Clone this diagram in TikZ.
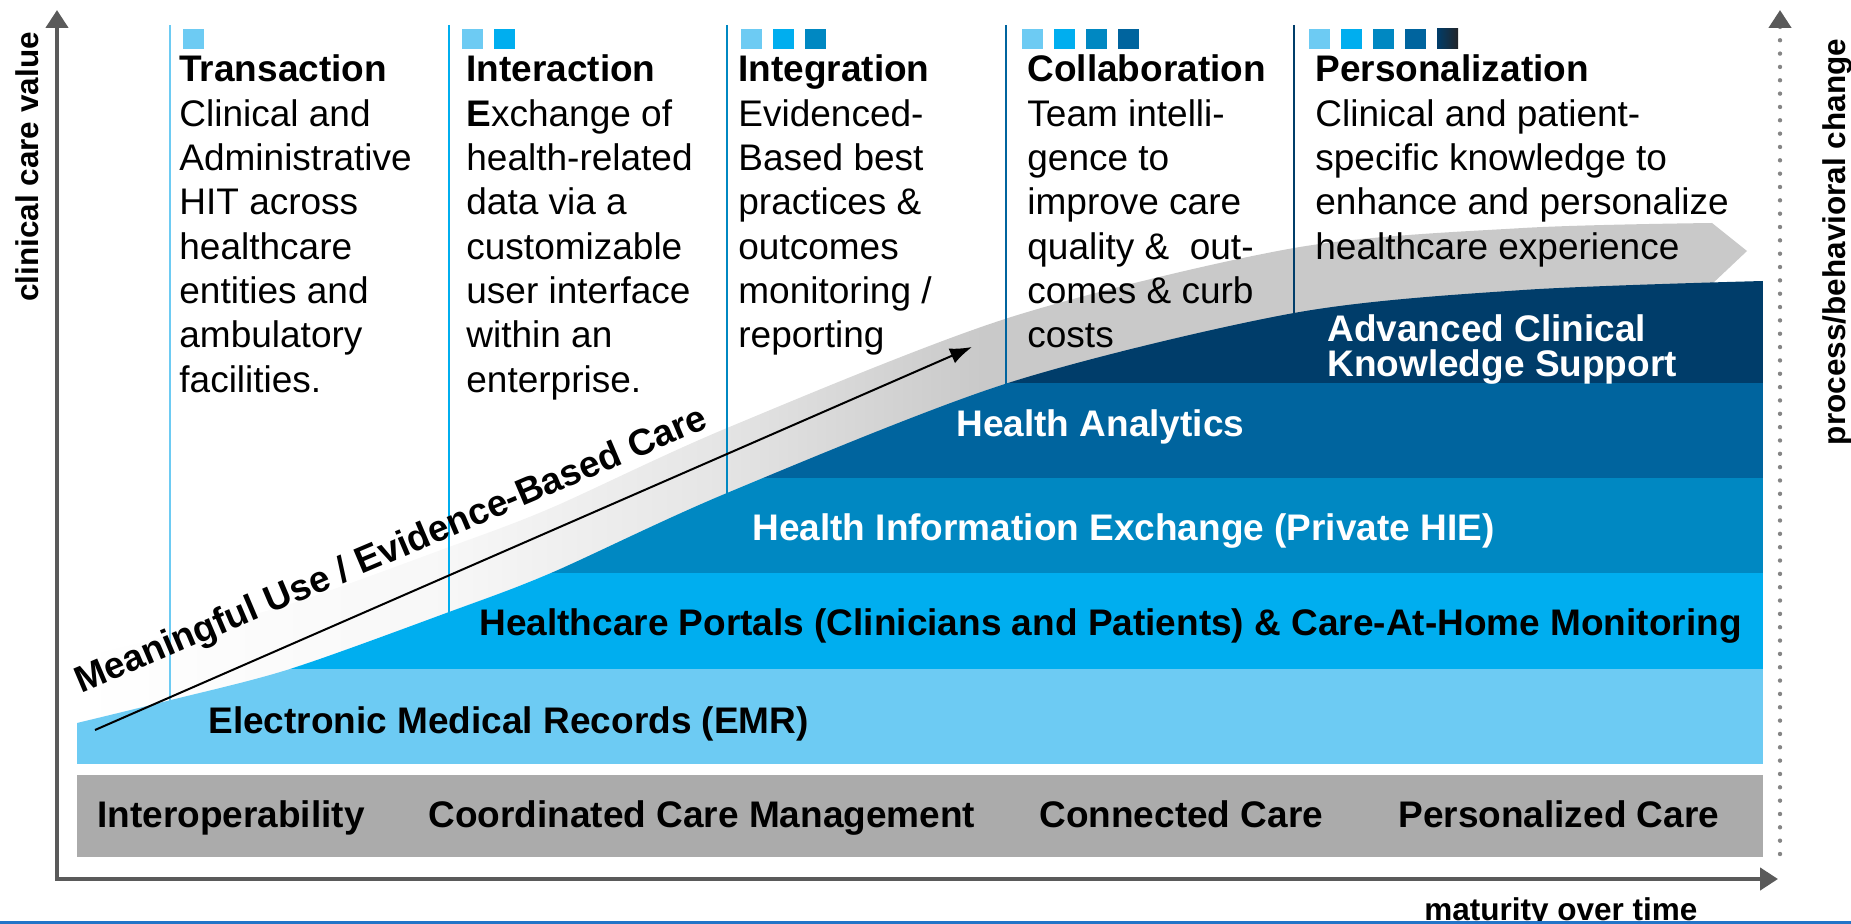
\documentclass[tikz,border=0pt]{standalone}
\usepackage{fontspec}
\setmainfont{Liberation Sans}
\usetikzlibrary{arrows.meta}
\definecolor{cA}{HTML}{6DCBF3}
\definecolor{cB}{HTML}{00AEEF}
\definecolor{cC}{HTML}{0088C2}
\definecolor{cD}{HTML}{00649E}
\definecolor{cE}{HTML}{003D6A}
\definecolor{sqdark}{HTML}{222428}
\definecolor{axisgray}{HTML}{5A5A5A}
\definecolor{dotgray}{HTML}{858585}
\definecolor{bargray}{HTML}{ABABAB}
\definecolor{botblue}{HTML}{2274C8}
\definecolor{botblue2}{HTML}{46A4E8}
\pgfdeclarehorizontalshading{bandshade}{100bp}{color(0bp)=(white); color(25bp)=(white); color(36bp)=(black!3); color(44bp)=(black!10); color(52bp)=(black!21); color(75bp)=(black!21); color(100bp)=(black!21)}
\begin{document}
\begin{tikzpicture}[x=0.5pt,y=-0.5pt,
  body/.style={font=\fontsize{18.5}{22}\selectfont, anchor=base west, inner sep=0pt},
  head/.style={font=\fontsize{18.5}{22}\selectfont\bfseries, anchor=base west, inner sep=0pt},
  lbl/.style={font=\fontsize{18.5}{22}\selectfont\bfseries, anchor=base west, inner sep=0pt},
  axlbl/.style={font=\fontsize{15.75}{18}\selectfont\bfseries, inner sep=0pt},
  colline/.style={line width=1.25pt},
  tipgray/.style={axisgray, line width=2.2pt}]
\useasboundingbox (0,0) rectangle (1851,924);

% gray gradient arrow band
\path[shading=bandshade] plot[smooth] coordinates {(77,658) (171,635) (290,604) (449,547) (551,508) (727,428) (1008,318) (1294,248) (1523,228) (1712,223)} -- (1747,251) -- (1712,284) -- (1712,700) -- (77,740) -- cycle;

% column separator lines
\draw[colline, cA] (170,25) -- (170,710);
\draw[colline, cB] (449,25) -- (449,620);
\draw[colline, cC] (727,25) -- (727,500);
\draw[colline, cD] (1006,25) -- (1006,392);
\draw[colline, cE] (1294,25) -- (1294,320);

% stacked colored layers
\begin{scope}
\clip (77,764) -- plot[smooth] coordinates {(77,723) (171,700) (290,669) (449,612) (551,573) (727,493) (1008,383) (1294,313) (1523,290) (1763,281)} -- (1763,764) -- cycle;
\fill[cA] (77,669) rectangle (1763,764);
\fill[cB] (77,573) rectangle (1763,669);
\fill[cC] (77,478) rectangle (1763,573);
\fill[cD] (77,383) rectangle (1763,478);
\fill[cE] (77,250) rectangle (1763,383);
\end{scope}

% bottom gray bar
\fill[bargray] (77,775) rectangle (1763,857);

% small squares
\fill[cA] (183,29) rectangle +(21,20);
\fill[cA] (462,29) rectangle +(21,20);
\fill[cB] (494,29) rectangle +(21,20);
\fill[cA] (741,29) rectangle +(21,20);
\fill[cB] (773,29) rectangle +(21,20);
\fill[cC] (805,29) rectangle +(21,20);
\fill[cA] (1022,29) rectangle +(21,20);
\fill[cB] (1054,29) rectangle +(21,20);
\fill[cC] (1086,29) rectangle +(21,20);
\fill[cD] (1118,29) rectangle +(21,20);
\fill[cA] (1309,29) rectangle +(21,20);
\fill[cB] (1341,29) rectangle +(21,20);
\fill[cC] (1373,29) rectangle +(21,20);
\fill[cD] (1405,29) rectangle +(21,20);
\fill[left color=cE, right color=sqdark] (1437,29) rectangle +(21,20);

% column texts
\node[head] (h1) at (179,82) {Transaction};
\foreach \s [count=\i] in {{Clinical and},{Administrative},{HIT across},{healthcare},{entities and},{ambulatory},{facilities.}}
  \node[body] (c1l\i) at (179,82+44.3*\i) {\s};
\node[head] (h2) at (466,82) {Interaction};
\foreach \s [count=\i] in {{\textbf{E}xchange of},{health-related},{data via a},{customizable},{user interface},{within an},{enterprise.}}
  \node[body] (c2l\i) at (466,82+44.3*\i) {\s};
\node[head] (h3) at (738,82) {Integration};
\foreach \s [count=\i] in {{Evidenced-},{Based best},{practices \&},{outcomes},{monitoring /},{reporting}}
  \node[body] (c3l\i) at (738,82+44.3*\i) {\s};
\node[head] (h4) at (1027,82) {Collaboration};
\foreach \s [count=\i] in {{Team intelli-},{gence to},{improve care},{quality \&\ \ out-},{comes \& curb},{costs}}
  \node[body] (c4l\i) at (1027,82+44.3*\i) {\s};
\node[head] (h5) at (1315,82) {Personalization};
\foreach \s [count=\i] in {{Clinical and patient-},{specific knowledge to},{enhance and personalize},{healthcare experience}}
  \node[body] (c5l\i) at (1315,82+44.3*\i) {\s};

% layer labels
\node[lbl] (emr) at (208,733) {Electronic Medical Records (EMR)};
\node[lbl] (port) at (479,635) {Healthcare Portals (Clinicians and Patients) \& Care-At-Home Monitoring};
\node[lbl, text=white] (hie) at (752,540) {Health Information Exchange (Private HIE)};
\node[lbl, text=white] (ana) at (956,437) {Health Analytics};
\node[lbl, text=white] (adv1) at (1327,342) {Advanced Clinical};
\node[lbl, text=white] (adv2) at (1327,377) {Knowledge Support};

% bar labels
\node[lbl] (b1) at (97,827) {Interoperability};
\node[lbl] (b2) at (428,827) {Coordinated Care Management};
\node[lbl] (b3) at (1039,827) {Connected Care};
\node[lbl] (b4) at (1398,827) {Personalized Care};

% meaningful use arrow
\node[lbl, rotate=23] (mu) at (81,694) {Meaningful Use / Evidence-Based Care};
\coordinate (ms) at (95,730);
\coordinate (me) at (972,347);
\draw[line width=1pt, -{Latex[length=11pt,width=8pt]}] (ms) -- (me);

% axes
\coordinate (ytop) at (57,10);
\coordinate (org) at (57,879);
\coordinate (xend) at (1778,879);
\draw[tipgray, line join=miter, {Triangle[length=9pt,width=11pt]}-{Triangle[length=9pt,width=11pt]}] (ytop) -- (org) -- (xend);
\coordinate (rbot) at (1780,854);
\coordinate (rtop) at (1780,10);
\draw[dotgray, line width=2.2pt, line cap=round, dash pattern=on 0pt off 6.67pt, -{Triangle[length=9pt,width=11pt,color=axisgray]}] (rbot) -- (rtop);

% axis labels
\node[axlbl, rotate=90, anchor=base] (yl) at (38,167) {clinical care value};
\node[axlbl, rotate=90, anchor=base] (rl) at (1845,242) {process/behavioral change};
\node[axlbl, anchor=base west] (xl) at (1424,920) {maturity over time};

% bottom blue rule
\fill[left color=botblue, middle color=botblue2, right color=botblue] (0,921) rectangle (1851,924);
\end{tikzpicture}
\end{document}
